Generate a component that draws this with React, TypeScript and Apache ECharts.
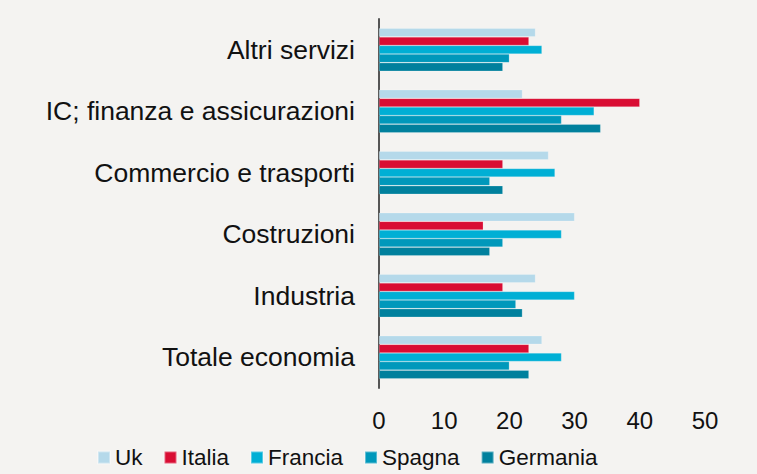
import React, { useEffect, useRef } from "react";
import * as echarts from "echarts";

const categories = [
  "Altri servizi",
  "IC; finanza e assicurazioni",
  "Commercio e trasporti",
  "Costruzioni",
  "Industria",
  "Totale economia",
];
const seriesNames = ["Uk", "Italia", "Francia", "Spagna", "Germania"];
const ukValues = [24, 22, 26, 30, 24, 25];
const italiaValues = [23, 40, 19, 16, 19, 23];
const franciaValues = [25, 33, 27, 28, 30, 28];
const spagnaValues = [20, 28, 17, 19, 21, 20];
const germaniaValues = [19, 34, 19, 17, 22, 23];
const xTicks = [0, 10, 20, 30, 40, 50];

const colors = ["#b5d9ea", "#d90d33", "#00afd5", "#0098bb", "#00809d"];
const allValues = [ukValues, italiaValues, franciaValues, spagnaValues, germaniaValues];

export default function App() {
  const ref = useRef<HTMLDivElement>(null);
  useEffect(() => {
    if (!ref.current) return;
    const chart = echarts.init(ref.current, null, { renderer: "svg" });
    const font = "'Liberation Sans', Arial, sans-serif";
    chart.setOption({
      animation: false,
      backgroundColor: "#f4f3f1",
      textStyle: { fontFamily: font },
      grid: { left: 379, right: 52, top: 19, bottom: 86, containLabel: false },
      legend: {
        data: seriesNames,
        left: 97,
        top: 446,
        icon: "rect",
        itemWidth: 12,
        itemHeight: 12,
        itemGap: 21,
        padding: 0,
        textStyle: { fontSize: 22.5, color: "#111", fontFamily: font },
      },
      xAxis: {
        type: "value",
        min: xTicks[0],
        max: xTicks[xTicks.length - 1],
        interval: 10,
        axisLine: { show: false },
        axisTick: { show: false },
        splitLine: { show: false },
        axisLabel: { fontSize: 24, color: "#111", margin: 20, fontFamily: font },
      },
      yAxis: {
        type: "category",
        data: categories,
        inverse: true,
        axisLine: { show: true, lineStyle: { color: "#555", width: 2 } },
        axisTick: { show: false },
        axisLabel: { fontSize: 26.5, color: "#111", margin: 24, fontFamily: font },
      },
      series: seriesNames.map((name, i) => ({
        name,
        type: "bar",
        data: allValues[i],
        barGap: "0%",
        barCategoryGap: "30%",
        itemStyle: { color: colors[i], borderColor: "rgba(255,255,255,0.35)", borderWidth: 0.6 },
      })),
    });
    return () => chart.dispose();
  }, []);
  return (
    <div
      ref={ref}
      style={{ width: 757, height: 474, position: "absolute", left: 0, top: 0 }}
    />
  );
}
